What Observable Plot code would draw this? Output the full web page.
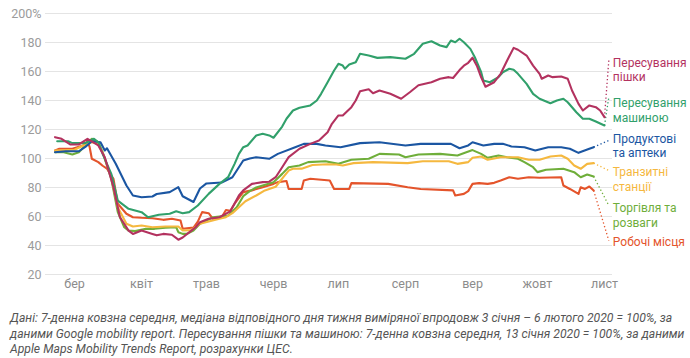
<!DOCTYPE html>
<html><head><meta charset="utf-8">
<script src="https://cdn.jsdelivr.net/npm/d3@7"></script>
<script src="https://cdn.jsdelivr.net/npm/@observablehq/plot@0.6"></script>
<style>
body{margin:0;background:#fff;font-family:Roboto,sans-serif;}
#caption{font-style:italic;font-size:12.2px;line-height:15.5px;color:#555;padding-left:10px;margin-top:11px;white-space:nowrap;}
</style></head><body>
<div id="chart"></div>
<div id="caption">Дані: 7-денна ковзна середня, медіана відповідного дня тижня виміряної впродовж 3 січня – 6 лютого 2020 = 100%, за<br>даними Google mobility report. Пересування пішки та машиною: 7-денна ковзна середня, 13 січня 2020 = 100%, за даними<br>Apple Maps Mobility Trends Report, розрахунки ЦЕС.</div>
<script>
const walking = [["2020-02-21",114.7],["2020-02-24",113.6],["2020-02-28",109.7],["2020-03-03",109.7],["2020-03-07",113.6],["2020-03-12",109],["2020-03-15",100.9],["2020-03-19",80.2],["2020-03-22",59.5],["2020-03-26",50.3],["2020-03-28",48],["2020-04-01",50.3],["2020-04-06",48],["2020-04-08",47],["2020-04-11",48],["2020-04-15",47.4],["2020-04-18",44],["2020-04-20",45.5],["2020-04-24",50.3],["2020-04-26",52.6],["2020-04-28",56],["2020-05-02",58.4],["2020-05-07",59.5],["2020-05-12",63.5],["2020-05-16",74.5],["2020-05-18",78],["2020-05-22",82.5],["2020-05-27",83.7],["2020-05-30",84],["2020-06-02",87.1],["2020-06-05",94],["2020-06-08",100.9],["2020-06-13",106.7],["2020-06-18",110.1],["2020-06-22",112.4],["2020-06-26",118.1],["2020-06-28",123.9],["2020-07-01",129.7],["2020-07-03",129.7],["2020-07-07",135.4],["2020-07-09",140],["2020-07-11",146.4],["2020-07-15",147.8],["2020-07-17",145],["2020-07-20",146.9],["2020-07-25",144.6],["2020-07-30",141.2],["2020-08-03",145.7],["2020-08-07",150.5],["2020-08-13",152.6],["2020-08-17",155],["2020-08-21",156.1],["2020-08-23",155.5],["2020-08-26",161],["2020-08-28",164],["2020-08-30",166],["2020-09-01",169.5],["2020-09-03",164],["2020-09-05",156],["2020-09-07",149.5],["2020-09-11",152.6],["2020-09-14",158.4],["2020-09-17",167.6],["2020-09-20",176.3],["2020-09-22",175],["2020-09-26",171],["2020-09-29",164.1],["2020-10-02",158.4],["2020-10-03",155],["2020-10-06",157.2],["2020-10-08",156.1],["2020-10-12",156.6],["2020-10-15",155],["2020-10-17",146.9],["2020-10-20",137.7],["2020-10-22",133.1],["2020-10-25",136.6],["2020-10-28",135.4],["2020-10-30",133.1],["2020-11-01",128.5]];

const driving = [["2020-02-22",111.9],["2020-02-27",111.9],["2020-02-29",110.6],["2020-03-06",110.6],["2020-03-10",113.6],["2020-03-12",111.2],["2020-03-14",103.2],["2020-03-18",89.4],["2020-03-21",71],["2020-03-26",65.3],["2020-03-29",64.1],["2020-04-01",63],["2020-04-04",59.5],["2020-04-09",61.2],["2020-04-14",61.9],["2020-04-17",63.6],["2020-04-20",62.3],["2020-04-23",63],["2020-04-27",67.6],["2020-05-02",75.6],["2020-05-07",82.5],["2020-05-11",87.1],["2020-05-14",96.3],["2020-05-16",103.2],["2020-05-18",107.8],["2020-05-20",109],["2020-05-24",115.9],["2020-05-27",117],["2020-05-30",115.9],["2020-06-01",114.3],["2020-06-05",122],["2020-06-07",127.4],["2020-06-10",133.1],["2020-06-13",135],["2020-06-18",136.6],["2020-06-21",140],["2020-06-23",144.6],["2020-06-26",152.6],["2020-06-29",160.7],["2020-07-01",165.3],["2020-07-03",164.1],["2020-07-04",161.9],["2020-07-06",164.8],["2020-07-09",166.4],["2020-07-11",172.2],["2020-07-15",171],["2020-07-19",169.4],["2020-07-25",169.9],["2020-08-01",168.8],["2020-08-05",172.2],["2020-08-09",179.1],["2020-08-13",180.9],["2020-08-17",177.9],["2020-08-20",176.8],["2020-08-22",181.4],["2020-08-24",180.2],["2020-08-26",182.6],["2020-08-28",180.2],["2020-08-31",175.6],["2020-09-02",170],["2020-09-05",159.5],["2020-09-06",153.8],["2020-09-09",152.6],["2020-09-13",156.1],["2020-09-15",159.5],["2020-09-18",161.9],["2020-09-20",161.2],["2020-09-22",158.4],["2020-09-26",151.5],["2020-09-29",144.6],["2020-10-02",141.2],["2020-10-07",138.1],["2020-10-10",140],["2020-10-13",141.2],["2020-10-15",138.8],["2020-10-19",131.9],["2020-10-22",127.4],["2020-10-25",127.4],["2020-10-28",125.5],["2020-11-01",122.8]];

const grocery = [["2020-02-21",104.3],["2020-02-26",105],["2020-03-03",105],["2020-03-06",108],["2020-03-09",111.9],["2020-03-13",111.2],["2020-03-15",105.5],["2020-03-16",107],["2020-03-20",96.6],["2020-03-25",81.4],["2020-03-28",74.5],["2020-04-01",73.3],["2020-04-06",73.8],["2020-04-08",75.5],["2020-04-14",76.8],["2020-04-18",80.2],["2020-04-20",74],["2020-04-25",70],["2020-04-28",79.3],["2020-05-01",82.8],["2020-05-08",83.4],["2020-05-13",87.1],["2020-05-18",98.6],["2020-05-21",100],["2020-05-24",100.9],["2020-05-30",99.8],["2020-06-03",103.2],["2020-06-11",107.8],["2020-06-15",110.1],["2020-06-21",110.1],["2020-06-25",109],["2020-07-02",107.8],["2020-07-11",110.6],["2020-07-20",111.2],["2020-08-01",109],["2020-08-08",110.1],["2020-08-22",110.1],["2020-08-26",107.1],["2020-08-30",109],["2020-09-01",111.2],["2020-09-06",109],["2020-09-11",110.1],["2020-09-15",110.1],["2020-09-19",108.3],["2020-09-25",107.8],["2020-09-30",105.5],["2020-10-06",107.8],["2020-10-12",107.8],["2020-10-16",106.7],["2020-10-20",103.9],["2020-10-25",106.7],["2020-10-27",107.8]];

const transit = [["2020-02-21",105.5],["2020-03-01",106],["2020-03-06",109.7],["2020-03-09",111.2],["2020-03-12",110.1],["2020-03-14",104.3],["2020-03-18",87.1],["2020-03-21",66.4],["2020-03-25",55],["2020-03-28",53.1],["2020-04-01",53.8],["2020-04-06",52.6],["2020-04-12",53.1],["2020-04-18",53.1],["2020-04-20",50.3],["2020-04-24",50.6],["2020-04-28",55],["2020-05-07",58.4],["2020-05-10",59.5],["2020-05-13",62.3],["2020-05-16",66.4],["2020-05-19",70.5],["2020-05-24",74.5],["2020-05-28",78],["2020-06-02",80.5],["2020-06-06",88],["2020-06-08",91.7],["2020-06-10",92.9],["2020-06-14",93],["2020-06-19",95.5],["2020-06-26",96],["2020-06-30",95.9],["2020-07-03",95.2],["2020-07-08",96.8],["2020-07-17",97.5],["2020-08-02",96.8],["2020-08-09",98.1],["2020-08-21",98.1],["2020-08-25",96.3],["2020-08-30",97.5],["2020-09-01",100.5],["2020-09-05",101.4],["2020-09-08",99.1],["2020-09-14",100.9],["2020-09-22",100.9],["2020-09-27",99.1],["2020-10-02",99.1],["2020-10-07",101.4],["2020-10-12",102.1],["2020-10-15",99.8],["2020-10-18",95.2],["2020-10-21",92.9],["2020-10-24",96.3],["2020-10-27",96.8]];

const retail = [["2020-02-21",104.3],["2020-02-25",104.3],["2020-02-29",102.8],["2020-03-03",104.3],["2020-03-06",109],["2020-03-09",113.6],["2020-03-12",111.2],["2020-03-14",104.3],["2020-03-18",86],["2020-03-21",63],["2020-03-24",52.6],["2020-03-26",50.3],["2020-03-29",49.9],["2020-04-03",51.5],["2020-04-07",51.5],["2020-04-12",52.2],["2020-04-17",52.6],["2020-04-18",49.2],["2020-04-20",48],["2020-04-22",48],["2020-04-25",50.3],["2020-04-28",55],["2020-05-04",59.5],["2020-05-11",60.7],["2020-05-15",66.4],["2020-05-18",74],["2020-05-21",77.5],["2020-05-24",80],["2020-05-27",81.4],["2020-06-01",83.7],["2020-06-05",89.4],["2020-06-08",94],["2020-06-13",95.2],["2020-06-17",97.5],["2020-06-25",98.1],["2020-07-01",96.3],["2020-07-07",99.1],["2020-07-15",99.8],["2020-07-20",103.2],["2020-07-29",102.8],["2020-08-01",100.9],["2020-08-07",102.8],["2020-08-17",103.2],["2020-08-25",102.1],["2020-09-01",105.8],["2020-09-05",103.2],["2020-09-08",100.5],["2020-09-13",102.1],["2020-09-17",100.9],["2020-09-22",99.8],["2020-09-25",97.5],["2020-09-29",94],["2020-10-01",90.6],["2020-10-05",92.2],["2020-10-13",92.9],["2020-10-18",90.6],["2020-10-21",87.1],["2020-10-24",89],["2020-10-27",87.6]];

const workplaces = [["2020-02-21",105.5],["2020-02-23",106.7],["2020-02-29",106.7],["2020-03-05",109],["2020-03-07",111.9],["2020-03-08",107.8],["2020-03-09",99.8],["2020-03-12",97.5],["2020-03-14",95],["2020-03-16",93],["2020-03-19",86],["2020-03-21",68.8],["2020-03-25",61.9],["2020-03-28",59.5],["2020-04-01",59.1],["2020-04-06",58.8],["2020-04-11",57.7],["2020-04-15",58.4],["2020-04-19",57.2],["2020-04-20",51.5],["2020-04-25",52.4],["2020-04-27",56.5],["2020-04-29",63],["2020-05-02",62.3],["2020-05-04",58.4],["2020-05-08",59.5],["2020-05-10",64.5],["2020-05-12",64],["2020-05-14",68.8],["2020-05-18",76.8],["2020-05-22",78],["2020-05-27",80.2],["2020-06-01",82.5],["2020-06-03",83.7],["2020-06-07",84.5],["2020-06-08",79],["2020-06-14",79],["2020-06-15",84.8],["2020-06-18",86],["2020-06-27",84.8],["2020-06-29",79],["2020-07-06",79],["2020-07-07",83],["2020-07-24",82.5],["2020-08-02",80.2],["2020-08-08",79],["2020-08-23",78],["2020-08-24",74.5],["2020-08-28",75.6],["2020-08-30",77.5],["2020-09-01",82.5],["2020-09-04",83],["2020-09-08",82.5],["2020-09-11",83.2],["2020-09-14",84.8],["2020-09-18",87.1],["2020-09-22",86],["2020-09-27",87.1],["2020-10-02",86.7],["2020-10-12",87.1],["2020-10-13",81.4],["2020-10-16",79],["2020-10-20",75.6],["2020-10-21",80.2],["2020-10-23",79],["2020-10-25",80.7],["2020-10-27",77.9]];

const seriesData = [workplaces, retail, transit, grocery, driving, walking];
const seriesLabels = ["Робочі місця", "Торгівля та\nрозваги", "Транзитні\nстанції", "Продуктові\nта аптеки", "Пересування\nмашиною", "Пересування\nпішки"];
const seriesColors = ["#e4542b", "#6fae3a", "#f5b83f", "#1b56a2", "#31a06b", "#b3325f"];
const labelCenterY = [42.8, 61, 85.9, 109, 133.4, 161.4];
const leaderEndY = [43.4, 67.6, 91.7, 112.4, 142.1, 167.6];
const leaderEndDate = "2020-11-03";

const monthTicks = ["2020-03-01","2020-04-01","2020-05-01","2020-06-01","2020-07-01","2020-08-01","2020-09-01","2020-10-01","2020-11-01"];
const monthLabels = ["бер","квіт","трав","черв","лип","серп","вер","жовт","лист"];
const yTicks = [20,40,60,80,100,120,140,160,180,200];

const parse = s => new Date(s + "T00:00:00Z");
const marks = [
  Plot.gridY(yTicks, {stroke:"#e4e4e4", strokeOpacity:1, strokeWidth:1}),
  Plot.axisY(yTicks, {tickSize:0, tickPadding:4, label:null, fill:"#9b9b9b", fontSize:12.5,
    tickFormat: d => d === 200 ? "200%" : String(d)}),
  Plot.axisX(monthTicks.map(parse), {tickSize:0, tickPadding:5, label:null, fill:"#8c8c8c", fontSize:12.5,
    tickFormat: d => monthLabels[d.getUTCMonth() - 2]})
];
seriesData.forEach((arr, i) => {
  const rows = arr.map(([d, v]) => ({date: parse(d), value: v}));
  const last = rows[rows.length - 1];
  marks.push(Plot.link([last], {x1:"date", y1:"value", x2:() => parse(leaderEndDate), y2:() => leaderEndY[i],
    stroke: seriesColors[i], strokeWidth:1.3, strokeDasharray:"1.3,2.4"}));
  marks.push(Plot.line(rows, {x:"date", y:"value", stroke: seriesColors[i], strokeWidth:2.1, curve:"linear"}));
  marks.push(Plot.text([seriesLabels[i]], {x:() => parse(leaderEndDate), y:() => labelCenterY[i], text:d => d,
    fill: seriesColors[i], textAnchor:"start", dx:4, fontSize:12, lineHeight:1.2}));
});

const chart = Plot.plot({
  width: 690, height: 300,
  marginLeft: 45, marginRight: 78, marginTop: 13, marginBottom: 26,
  x: {type:"utc", domain:[new Date("2020-02-16T14:00:00Z"), new Date("2020-11-04T17:00:00Z")]},
  y: {domain:[20, 200]},
  style: {fontFamily:"Roboto, sans-serif", background:"#fff", overflow:"visible"},
  marks
});
document.getElementById("chart").appendChild(chart);
</script>
</body></html>
